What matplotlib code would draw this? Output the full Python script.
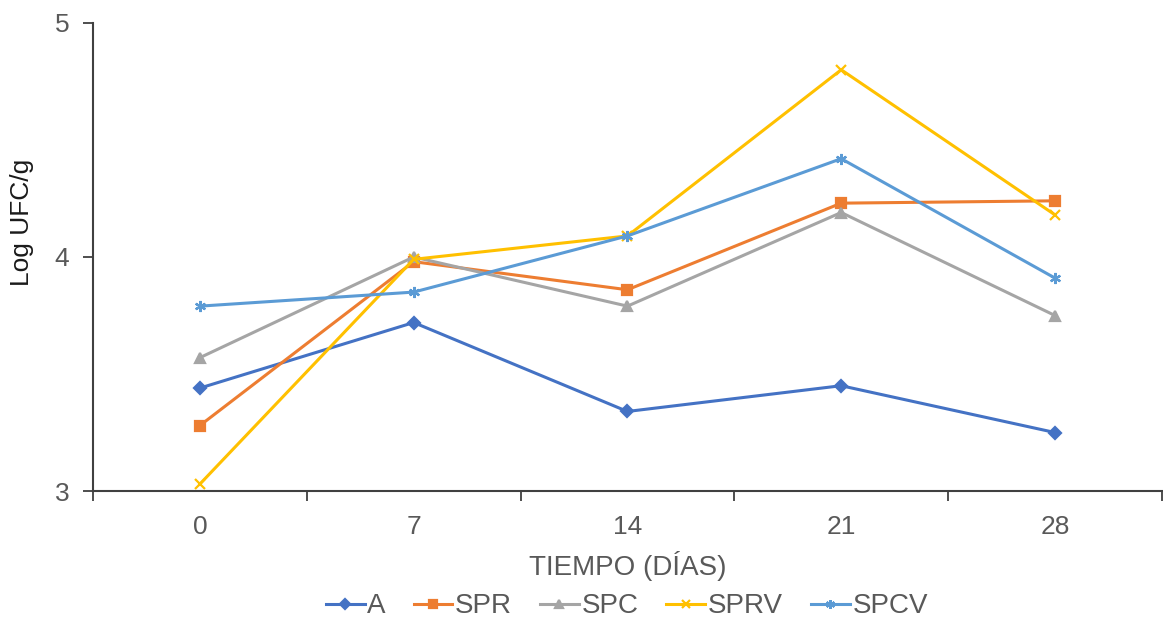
import matplotlib
matplotlib.use("Agg")
import matplotlib.pyplot as plt
import numpy as np

plt.rcParams["font.family"] = ["Liberation Sans", "DejaVu Sans"]

dias = ["0", "7", "14", "21", "28"]
a = [3.44, 3.72, 3.34, 3.45, 3.25]
spr = [3.28, 3.98, 3.86, 4.23, 4.24]
spc = [3.57, 4.00, 3.79, 4.19, 3.75]
sprv = [3.03, 3.99, 4.09, 4.80, 4.18]
spcv = [3.79, 3.85, 4.09, 4.42, 3.91]

series = [
    ("A", a, "#4472C4", "D", 6),
    ("SPR", spr, "#ED7D31", "s", 7),
    ("SPC", spc, "#A5A5A5", "^", 7),
    ("SPRV", sprv, "#FFC000", "x", 7),
    ("SPCV", spcv, "#5B9BD5", (6, 2, 0), 8),
]

fig = plt.figure(figsize=(11.63, 6.2), dpi=100)
ax = fig.add_axes([0.080, 0.208, 0.919, 0.755])

x = np.arange(len(dias))
for name, vals, color, marker, ms in series:
    ax.plot(x, vals, color=color, lw=2.2, marker=marker, markersize=ms,
            markeredgewidth=1.6, label=name)

ax.set_xlim(-0.5, len(dias) - 0.5)
ax.set_ylim(3, 5)
ax.set_yticks([3, 4, 5])
ax.set_xticks(x)
ax.set_xticklabels(dias)
ax.set_xticks(np.arange(-0.5, len(dias), 1.0), minor=True)
ax.tick_params(axis="x", which="major", length=0, pad=17,
               labelsize=19, labelcolor="#595959")
ax.tick_params(axis="x", which="minor", length=7, width=1.3, color="#404040")
ax.tick_params(axis="y", length=7, width=1.3, color="#404040", pad=10,
               labelsize=19, labelcolor="#595959")

for side in ["top", "right"]:
    ax.spines[side].set_visible(False)
for side in ["left", "bottom"]:
    ax.spines[side].set_color("#404040")
    ax.spines[side].set_linewidth(1.5)

ax.set_xlabel("TIEMPO (DÍAS)", fontsize=20, color="#595959", labelpad=9)
ax.set_ylabel("Log UFC/g", fontsize=19, color="#1a1a1a")
ax.yaxis.set_label_coords(-0.055, 0.573)

fig.legend(loc="center", bbox_to_anchor=(0.539, 0.022), ncol=5, frameon=False,
           fontsize=20, labelcolor="#595959", handlelength=1.4,
           columnspacing=1.0, handletextpad=0.1, markerscale=0.8)

fig.savefig("out.png", dpi=100)
